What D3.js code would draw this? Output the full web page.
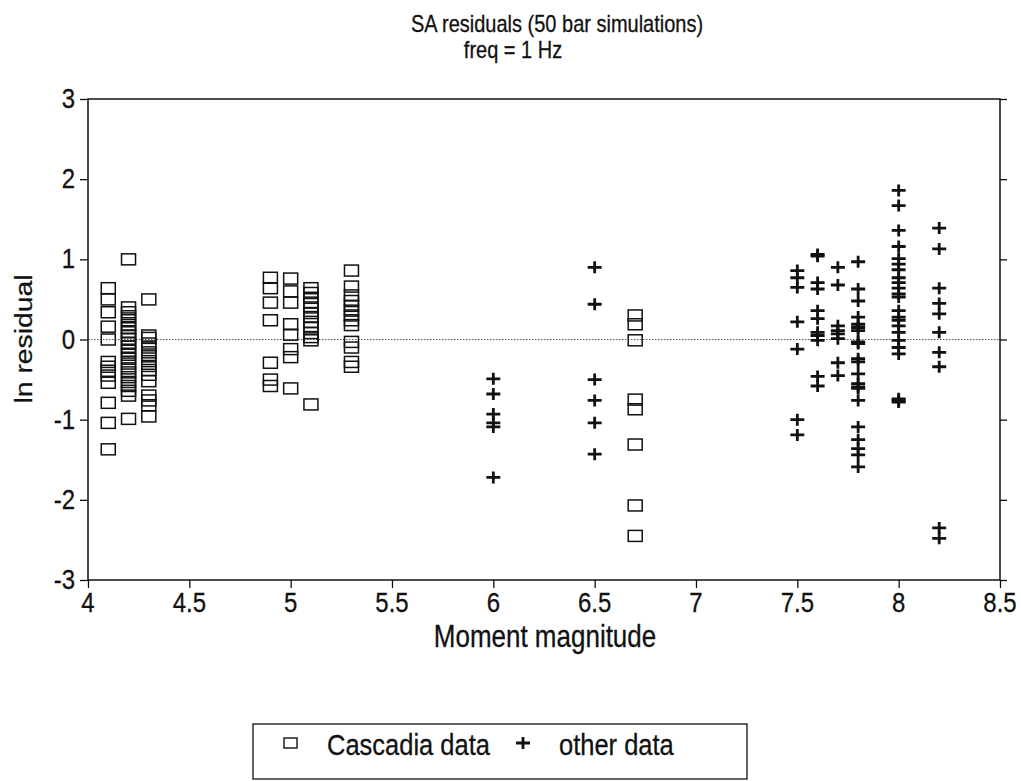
<!DOCTYPE html>
<html>
<head>
<meta charset="utf-8">
<script src="https://cdn.jsdelivr.net/npm/d3@7"></script>
<style>
  body { margin: 0; background: #fff; }
  text { font-family: "Liberation Sans", Arial, Helvetica, sans-serif; fill: #111; stroke: #111; stroke-width: 0.25; }
</style>
</head>
<body>
<div id="chart"></div>
<script>
// magnitudes and residuals
var cascadiaMag = [4.1, 4.2, 4.3, 4.9, 5.0, 5.1, 5.3, 6.7];
var cascadiaRes = [
  [0.64, 0.50, 0.34, 0.16, 0.0, -0.28, -0.34, -0.39, -0.45, -0.54, -0.79, -1.04, -1.37],
  [1.00, 0.40, 0.34, 0.29, 0.24, 0.18, 0.14, 0.09, 0.05, 0.01, -0.04, -0.09, -0.14, -0.19, -0.24, -0.30, -0.36, -0.41, -0.47, -0.53, -0.58, -0.64, -0.70, -0.99],
  [0.50, 0.05, 0.02, -0.05, -0.10, -0.16, -0.21, -0.27, -0.33, -0.38, -0.44, -0.52, -0.70, -0.76, -0.82, -0.96],
  [0.77, 0.64, 0.46, 0.24, -0.29, -0.50, -0.58],
  [0.76, 0.60, 0.46, 0.19, 0.06, -0.12, -0.22, -0.61],
  [0.64, 0.58, 0.52, 0.46, 0.40, 0.33, 0.28, 0.22, 0.15, 0.08, 0.03, -0.01, -0.81],
  [0.86, 0.66, 0.55, 0.48, 0.42, 0.36, 0.30, 0.24, 0.18, -0.03, -0.10, -0.28, -0.34],
  [0.30, 0.19, -0.01, -0.75, -0.87, -1.31, -2.07, -2.45]
];
var otherMag = [6.0, 6.5, 7.5, 7.6, 7.7, 7.8, 8.0, 8.2];
var otherRes = [
  [-0.49, -0.68, -0.93, -1.04, -1.09, -1.72],
  [0.90, 0.44, -0.50, -0.76, -1.04, -1.43],
  [0.86, 0.77, 0.65, 0.22, -0.12, -1.00, -1.19],
  [1.06, 1.04, 0.71, 0.63, 0.36, 0.26, 0.09, 0.05, -0.01, -0.46, -0.58],
  [0.90, 0.68, 0.17, 0.11, 0.07, 0.01, -0.29, -0.45],
  [0.97, 0.63, 0.48, 0.28, 0.19, 0.15, 0.11, -0.03, -0.05, -0.24, -0.28, -0.43, -0.55, -0.59, -0.61, -0.76, -1.09, -1.25, -1.36, -1.44, -1.59],
  [1.86, 1.67, 1.36, 1.16, 1.01, 0.94, 0.87, 0.77, 0.71, 0.64, 0.57, 0.53, 0.36, 0.28, 0.24, 0.17, 0.09, -0.01, -0.10, -0.18, -0.74, -0.76, -0.78],
  [1.39, 1.13, 0.64, 0.45, 0.32, 0.09, -0.16, -0.34, -2.35, -2.48]
];
var xTicks = [4, 4.5, 5, 5.5, 6, 6.5, 7, 7.5, 8, 8.5];
var yTicks = [-3, -2, -1, 0, 1, 2, 3];
var titleLines = ["SA residuals (50 bar simulations)", "freq = 1 Hz"];
var legendLabels = ["Cascadia data", "other data"];

var W = 1021, H = 781;
var mLeft = 88, mRight = 1000, mTop = 99, mBottom = 580;

var svg = d3.select("#chart").append("svg").attr("width", W).attr("height", H);

var x = d3.scaleLinear().domain([4, 8.5]).range([mLeft, mRight]);
var y = d3.scaleLinear().domain([-3, 3]).range([mBottom, mTop]);

// flatten series into points
var boxes = [], pluses = [];
cascadiaMag.forEach(function(m, i){ cascadiaRes[i].forEach(function(r){ boxes.push({m: m, r: r}); }); });
otherMag.forEach(function(m, i){ otherRes[i].forEach(function(r){ pluses.push({m: m, r: r}); }); });

// text stretched a bit vertically like the scanned original
var label = function(px, py, size, str, anchor){
  return svg.append("text").attr("transform", "translate(" + px + "," + py + ") scale(1,1.18)")
    .attr("text-anchor", anchor || "start").attr("font-size", size).text(str);
};

// zero line
svg.append("line").attr("x1", x(4)).attr("x2", x(8.5)).attr("y1", y(0)).attr("y2", y(0))
  .attr("stroke", "#555").attr("stroke-width", 1).attr("stroke-dasharray", "1.5,1.5");

// axes (ticks only, labels drawn below)
var xAxis = svg.append("g").attr("transform", "translate(0," + mBottom + ")")
  .call(d3.axisBottom(x).tickValues(xTicks).tickSize(8).tickFormat(""));
var yAxis = svg.append("g").attr("transform", "translate(" + mLeft + ",0)")
  .call(d3.axisLeft(y).tickValues(yTicks).tickSize(8).tickFormat(""));
var yAxisR = svg.append("g").attr("transform", "translate(" + mRight + ",0)")
  .call(d3.axisRight(y).tickValues(yTicks).tickSize(7).tickFormat(""));
[xAxis, yAxis, yAxisR].forEach(function(g){
  g.select(".domain").remove();
  g.selectAll("line").attr("stroke", "#111").attr("stroke-width", 1.3);
});
xTicks.forEach(function(t){ label(x(t), 612, 24, String(t), "middle"); });
yTicks.forEach(function(t){ label(mLeft - 13, y(t) + 9, 24, String(t), "end"); });

// frame
svg.append("rect").attr("x", mLeft).attr("y", mTop).attr("width", mRight - mLeft).attr("height", mBottom - mTop)
  .attr("fill", "none").attr("stroke", "#111").attr("stroke-width", 1.5);

// cascadia boxes
svg.selectAll(".box").data(boxes).enter().append("rect")
  .attr("class", "box")
  .attr("x", function(d){ return x(d.m) - 7; })
  .attr("y", function(d){ return y(d.r) - 5.5; })
  .attr("width", 14).attr("height", 11)
  .attr("fill", "none").attr("stroke", "#111").attr("stroke-width", 1.5);

// other data pluses
var plusPath = "M-7,0H7M0,-6V6";
svg.selectAll(".plus").data(pluses).enter().append("path")
  .attr("class", "plus")
  .attr("transform", function(d){ return "translate(" + x(d.m) + "," + y(d.r) + ")"; })
  .attr("d", plusPath)
  .attr("stroke", "#111").attr("stroke-width", 2.8).attr("fill", "none");

// titles
label(557, 32, 20, titleLines[0], "middle");
label(513, 58, 20, titleLines[1], "middle");
label(545, 647, 26, "Moment magnitude", "middle");
svg.append("text").attr("transform", "translate(32,339) rotate(-90) scale(1.18,1)").attr("text-anchor", "middle")
  .attr("font-size", 24).text("ln residual");

// legend
svg.append("rect").attr("x", 253).attr("y", 724).attr("width", 494).attr("height", 55)
  .attr("fill", "none").attr("stroke", "#111").attr("stroke-width", 1.3);
svg.append("rect").attr("x", 284).attr("y", 738).attr("width", 13).attr("height", 10)
  .attr("fill", "none").attr("stroke", "#111").attr("stroke-width", 1.4);
label(327, 755, 25.5, legendLabels[0]);
svg.append("path").attr("transform", "translate(523,743)").attr("d", plusPath)
  .attr("stroke", "#111").attr("stroke-width", 2.8);
label(559, 755, 25.5, legendLabels[1]);
</script>
</body>
</html>
